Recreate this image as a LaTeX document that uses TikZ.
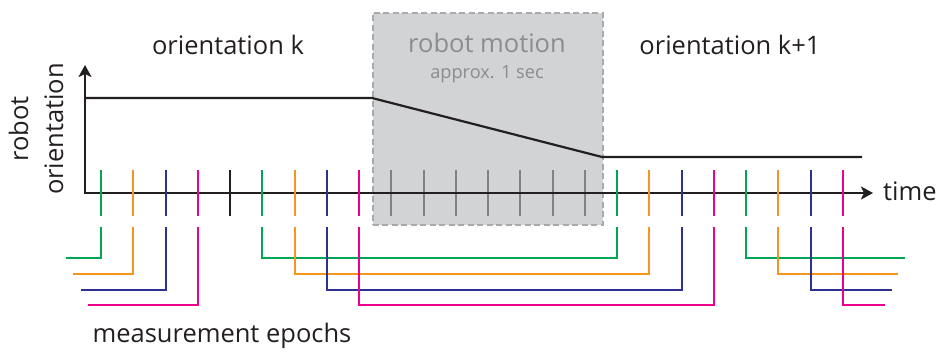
\documentclass[tikz,border=0pt]{standalone}
\usepackage{fontspec}
\setmainfont{Open Sans}
\usetikzlibrary{arrows.meta}
\definecolor{ink}{HTML}{231F20}
\definecolor{epG}{HTML}{00A651}
\definecolor{epO}{HTML}{F7941D}
\definecolor{epB}{HTML}{2E3192}
\definecolor{epM}{HTML}{EC008C}
\definecolor{boxfill}{HTML}{D1D3D4}
\definecolor{boxedge}{HTML}{A7A9AC}
\definecolor{boxtext}{HTML}{8A8C8E}
\definecolor{tickgray}{HTML}{808285}
\tikzset{
  axisline/.style={draw=ink, line width=2.6pt},
  orient/.style={draw=ink, line width=2.2pt},
  tickmark/.style={line width=2pt},
  epoch/.style={line width=2pt},
  label/.style={text=ink, font=\fontsize{25.5}{30}\selectfont, inner sep=0pt},
}
\begin{document}
\begin{tikzpicture}[x=1pt,y=-1pt]
\useasboundingbox (0,0) rectangle (937,352);

% shaded interval of robot motion
\node[draw=boxedge, fill=boxfill, line width=1.6pt, dash pattern=on 6pt off 3.5pt,
      minimum width=230pt, minimum height=212pt, inner sep=0pt, anchor=north west]
      (motion) at (372,12) {};
\node[text=boxtext, font=\fontsize{25.5}{30}\selectfont, inner sep=0pt] (mtitle) at (487,43) {robot motion};
\node[text=boxtext, font=\fontsize{18.2}{22}\selectfont, inner sep=0pt] (mdur) at (487,74) {approx. 1 sec};

% tick positions along the time axis
\foreach \i in {0,...,23} {
  \coordinate (t\i) at ({101+32.25*\i},193);
  \coordinate (u\i) at ({101+32.25*\i},170);
  \coordinate (d\i) at ({101+32.25*\i},216);
  \coordinate (l\i) at ({101+32.25*\i},227);
}
\coordinate (hG) at (0,258);
\coordinate (hO) at (0,274);
\coordinate (hB) at (0,290);
\coordinate (hM) at (0,305);

% gray ticks during motion (under the axis)
\foreach \i in {9,...,15} \draw[tickmark, tickgray] (u\i) -- (d\i);

% axes
\coordinate (origin) at (85,193);
\coordinate (ytop) at (85,65);
\coordinate (xend) at (873,193);
\draw[axisline, {Stealth[length=12pt,width=13pt,inset=3pt]}-{Stealth[length=12pt,width=13pt,inset=3pt]}]
  (ytop) -- (origin) -- (xend);

% orientation profile
\coordinate (o0) at (85,98);
\coordinate (o1) at (372,98);
\coordinate (o2) at (602,157);
\coordinate (o3) at (862,157);
\draw[orient] (o0) -- (o1) -- (o2) -- (o3);

% measurement ticks
\foreach \i/\c in {0/epG,1/epO,2/epB,3/epM,4/ink,5/epG,6/epO,7/epB,8/epM,
                   16/epG,17/epO,18/epB,19/epM,20/epG,21/epO,22/epB,23/epM}
  \draw[tickmark, \c] (u\i) -- (d\i);

% epoch brackets
\draw[epoch, epG] (l0) |- (66,258);
\draw[epoch, epO] (l1) |- (73,274);
\draw[epoch, epB] (l2) |- (81,290);
\draw[epoch, epM] (l3) |- (88,305);

\draw[epoch, epG] (l5) |- (l16 |- hG) -- (l16);
\draw[epoch, epO] (l6) |- (l17 |- hO) -- (l17);
\draw[epoch, epB] (l7) |- (l18 |- hB) -- (l18);
\draw[epoch, epM] (l8) |- (l19 |- hM) -- (l19);

\draw[epoch, epG] (l20) |- (905,258);
\draw[epoch, epO] (l21) |- (898,274);
\draw[epoch, epB] (l22) |- (892,290);
\draw[epoch, epM] (l23) |- (885,305);

% labels
\node[label] (ok) at (228,45) {orientation k};
\node[label] (ok1) at (730,45) {orientation k+1};
\node[label, anchor=west] (time) at (883,191) {time};
\node[label, align=center, rotate=90, font=\fontsize{25.5}{35}\selectfont] (yl) at (36,129) {robot\\orientation};
\node[label] (me) at (222,336) {measurement epochs};
\end{tikzpicture}
\end{document}
